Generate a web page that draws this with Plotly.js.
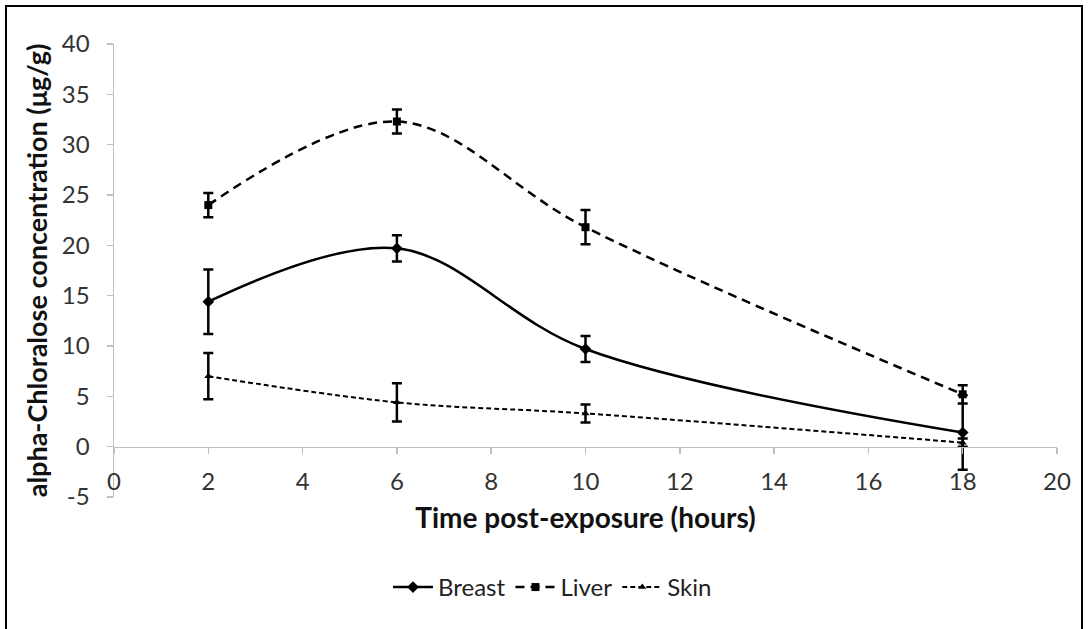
<!DOCTYPE html>
<html>
<head>
<meta charset="utf-8">
<script src="https://cdn.plot.ly/plotly-3.0.1.min.js"></script>
<style>
html,body{margin:0;padding:0;background:#fff;}
#chart{width:1089px;height:629px;}
#frame{position:absolute;left:5px;top:5px;width:1078px;height:640px;border:2px solid #000;pointer-events:none;box-sizing:border-box;}
</style>
</head>
<body>
<div id="chart"></div>
<div id="frame"></div>
<script>
const hours = [2, 6, 10, 18];
const breast = [14.4, 19.7, 9.7, 1.4];
const breastErr = [3.2, 1.3, 1.3, 3.7];
const liver = [24.0, 32.3, 21.8, 5.2];
const liverErr = [1.2, 1.2, 1.7, 0.9];
const skin = [7.0, 4.4, 3.3, 0.4];
const skinErr = [2.3, 1.9, 0.9, 0.4];
const xTicks = [0, 2, 4, 6, 8, 10, 12, 14, 16, 18, 20];
const yTicks = [-5, 0, 5, 10, 15, 20, 25, 30, 35, 40];

const FONT = 'Lato, Open Sans, sans-serif';

function series(name, y, err, symbol, msize, dash, width) {
  return {
    x: hours, y: y, name: name, type: 'scatter', mode: 'lines+markers',
    line: {color: '#000', width: width, dash: dash, shape: 'spline', smoothing: 1},
    marker: {symbol: symbol, size: msize, color: '#000'},
    error_y: {type: 'data', array: err, visible: true, color: '#000', thickness: 2.5, width: 5}
  };
}

const data = [
  series('Breast', breast, breastErr, 'diamond', 9, 'solid', 2.5),
  series('Liver', liver, liverErr, 'square', 8, '9px,6px', 2.5),
  series('Skin', skin, skinErr, 'triangle-up', 7, '5px,3px', 2)
];

const layout = {
  width: 1089, height: 629,
  margin: {l: 114, r: 32, t: 44, b: 132},
  paper_bgcolor: '#fff', plot_bgcolor: '#fff',
  font: {family: FONT, color: '#333', size: 24},
  showlegend: true,
  legend: {
    orientation: 'h', x: 0.465, xanchor: 'center', y: -0.15, yanchor: 'top',
    font: {family: FONT, size: 24, color: '#222'}, itemwidth: 40, tracegroupgap: 0
  },
  xaxis: {
    range: [0, 20], tickvals: xTicks, ticktext: xTicks.map(String),
    anchor: 'free', position: 5/45,
    showgrid: false, zeroline: false,
    showline: true, linecolor: '#bfbfbf', linewidth: 1.5,
    ticks: 'outside', ticklen: 6, tickcolor: '#bfbfbf', tickwidth: 1.5,
    ticklabelstandoff: 7,
    tickfont: {family: FONT, size: 24, color: '#333'},
    title: {text: '<b>Time post-exposure (hours)</b>', font: {family: FONT, size: 28, color: '#111'}, standoff: 14}
  },
  yaxis: {
    range: [-5, 40], tickvals: yTicks, ticktext: yTicks.map(String),
    showgrid: false, zeroline: false,
    showline: true, linecolor: '#bfbfbf', linewidth: 1.5,
    ticks: 'outside', ticklen: 6, tickcolor: '#bfbfbf', tickwidth: 1.5,
    ticklabelstandoff: 12,
    tickfont: {family: FONT, size: 24, color: '#333'},
    title: {text: '<b>alpha-Chloralose concentration (μg/g)</b>', font: {family: FONT, size: 27, color: '#111'}, standoff: 6}
  }
};

Plotly.newPlot('chart', data, layout, {displayModeBar: false, staticPlot: true});
</script>
</body>
</html>
